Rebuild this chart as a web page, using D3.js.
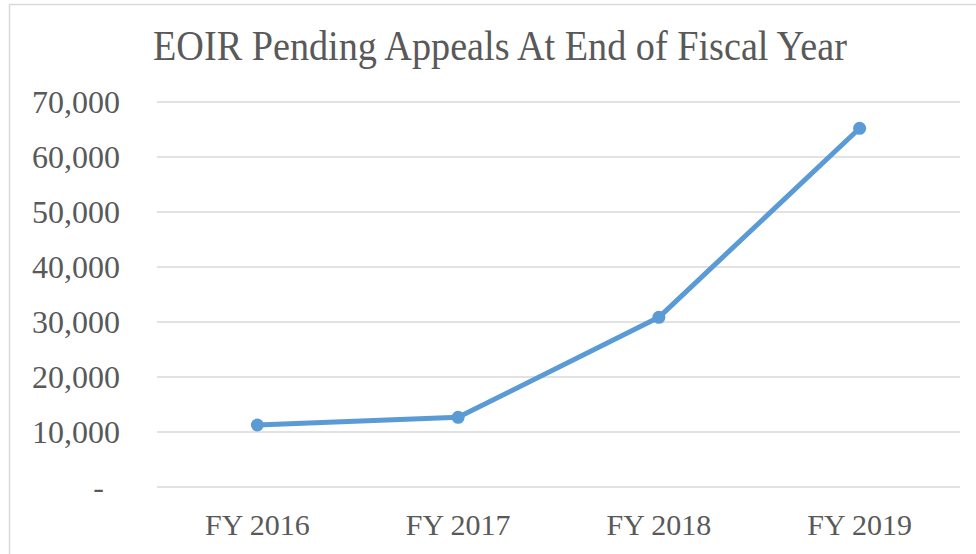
<!DOCTYPE html>
<html>
<head>
<meta charset="utf-8">
<script src="https://cdn.jsdelivr.net/npm/d3@7"></script>
<style>
	body { margin: 0; background: #fff; }
	text { font-family: "Liberation Serif", "Times New Roman", serif; fill: #595959; }
</style>
</head>
<body>
<div class="chart"></div>
<script>
var categories = ["FY 2016", "FY 2017", "FY 2018", "FY 2019"];
var pendingAppeals = [11270, 12670, 30850, 65220];
var yTicks = [0, 10000, 20000, 30000, 40000, 50000, 60000, 70000];

var width = 976;
var height = 554;
var margin = { top: 102, right: 16, bottom: 67, left: 157 };

var svg = d3.select(".chart")
	.append("svg")
	.attr("width", width)
	.attr("height", height);

// chart area border
svg.append("rect")
	.attr("x", 9.5)
	.attr("y", 4.5)
	.attr("width", 1000)
	.attr("height", 600)
	.attr("fill", "none")
	.attr("stroke", "#d9d9d9")
	.attr("stroke-width", 1.5);

svg.append("text")
	.attr("x", 500)
	.attr("y", 60)
	.attr("text-anchor", "middle")
	.attr("font-size", 42)
	.attr("textLength", 694)
	.attr("lengthAdjust", "spacingAndGlyphs")
	.text("EOIR Pending Appeals At End of Fiscal Year");

var x = d3.scalePoint()
	.domain(categories)
	.range([margin.left, width - margin.right])
	.padding(0.5);

var y = d3.scaleLinear()
	.domain([0, 70000])
	.range([height - margin.bottom, margin.top]);

// gridlines
svg.append("g")
	.selectAll("line")
	.data(yTicks)
	.enter()
	.append("line")
	.attr("x1", margin.left)
	.attr("x2", width - margin.right)
	.attr("y1", function(d) { return y(d); })
	.attr("y2", function(d) { return y(d); })
	.attr("stroke", "#d9d9d9")
	.attr("stroke-width", 1.5);

// y labels
svg.append("g")
	.selectAll("text")
	.data(yTicks)
	.enter()
	.append("text")
	.attr("x", function(d) { return d === 0 ? 104 : 120; })
	.attr("y", function(d) { return y(d); })
	.attr("dy", "0.33em")
	.attr("text-anchor", "end")
	.attr("font-size", 32)
	.text(function(d) { return d === 0 ? "-" : d3.format(",")(d); });

// x labels
svg.append("g")
	.selectAll("text")
	.data(categories)
	.enter()
	.append("text")
	.attr("x", function(d) { return x(d); })
	.attr("y", 535)
	.attr("text-anchor", "middle")
	.attr("font-size", 30)
	.text(function(d) { return d; });

var line = d3.line()
	.x(function(d, i) { return x(categories[i]); })
	.y(function(d) { return y(d); });

svg.append("path")
	.datum(pendingAppeals)
	.attr("d", line)
	.attr("fill", "none")
	.attr("stroke", "#5b9bd5")
	.attr("stroke-width", 5)
	.attr("stroke-linejoin", "round")
	.attr("stroke-linecap", "round");

svg.append("g")
	.selectAll("circle")
	.data(pendingAppeals)
	.enter()
	.append("circle")
	.attr("cx", function(d, i) { return x(categories[i]); })
	.attr("cy", function(d) { return y(d); })
	.attr("r", 6.5)
	.attr("fill", "#5b9bd5");
</script>
</body>
</html>
